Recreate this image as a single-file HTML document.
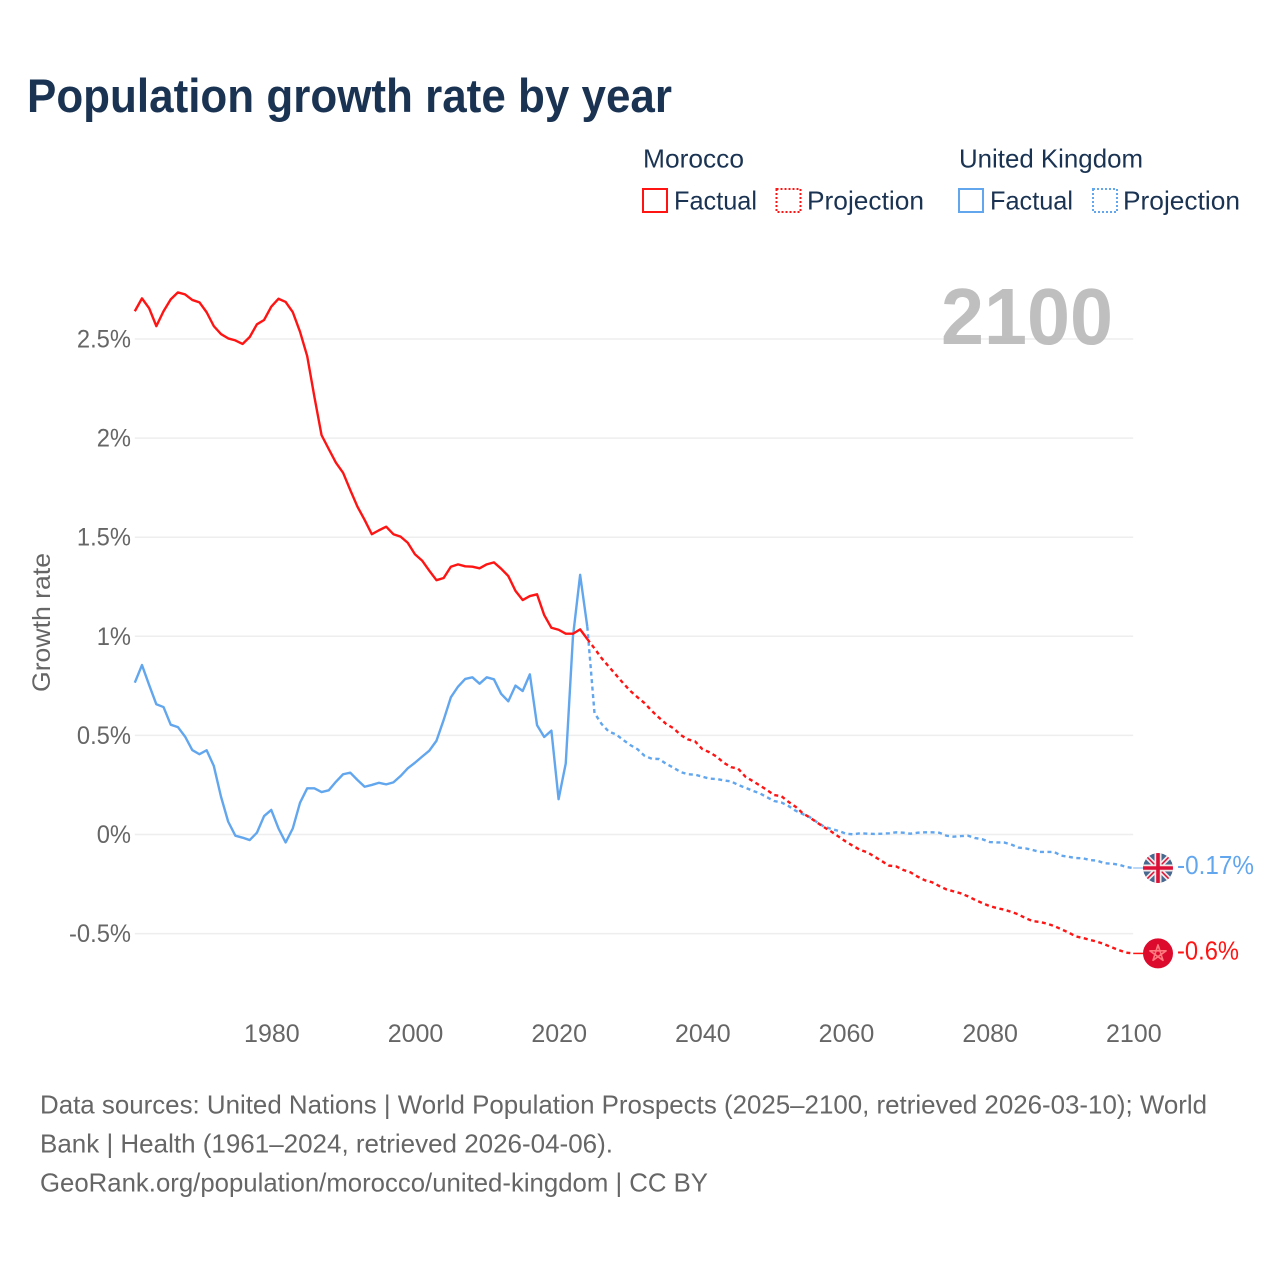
<!DOCTYPE html>
<html lang="en">
<head>
<meta charset="utf-8">
<title>Population growth rate by year</title>
<style>
  html, body { margin: 0; padding: 0; background: #ffffff; }
  body { width: 1280px; height: 1280px; overflow: hidden; }
  svg { display: block; }
  text { font-family: "Liberation Sans", sans-serif; }
  .dark { fill: #1a3352; font-size: 26px; }
  .grey { fill: #666666; font-size: 26px; }
  .tick { fill: #666666; font-size: 25px; }
</style>
</head>
<body>
<svg id="chart" xmlns="http://www.w3.org/2000/svg" width="1280" height="1280" viewBox="0 0 1280 1280">
  <rect x="0" y="0" width="1280" height="1280" fill="#ffffff"/>
  <text x="27" y="112" font-size="47" font-weight="700" fill="#1a3352" textLength="645" lengthAdjust="spacingAndGlyphs">Population growth rate by year</text>

  <g>
    <text class="dark" x="643" y="167.5" textLength="101" lengthAdjust="spacingAndGlyphs">Morocco</text>
    <text class="dark" x="959" y="167.5" textLength="184" lengthAdjust="spacingAndGlyphs">United Kingdom</text>
    <g>
      <rect x="643" y="189" width="24" height="23" fill="none" stroke="#ff1414" stroke-width="2"/>
      <text class="dark" x="674" y="209.5" textLength="83" lengthAdjust="spacingAndGlyphs">Factual</text>
    </g>
    <g>
      <rect x="776.5" y="189" width="24" height="23" fill="none" stroke="#ff1414" stroke-width="2" stroke-dasharray="2 2"/>
      <text class="dark" x="807" y="209.5" textLength="117" lengthAdjust="spacingAndGlyphs">Projection</text>
    </g>
    <g>
      <rect x="959" y="189" width="24" height="23" fill="none" stroke="#62a6ee" stroke-width="2"/>
      <text class="dark" x="990" y="209.5" textLength="83" lengthAdjust="spacingAndGlyphs">Factual</text>
    </g>
    <g>
      <rect x="1093" y="189" width="24" height="23" fill="none" stroke="#62a6ee" stroke-width="2" stroke-dasharray="2 2"/>
      <text class="dark" x="1123" y="209.5" textLength="117" lengthAdjust="spacingAndGlyphs">Projection</text>
    </g>
  </g>

  <g id="grid"></g>
  <g id="y-ticks"></g>
  <g id="x-ticks"></g>
  <text class="tick" transform="translate(50 622.5) rotate(-90)" text-anchor="middle" textLength="139" lengthAdjust="spacingAndGlyphs">Growth rate</text>

  <text x="941" y="344" font-size="80" font-weight="700" fill="#b4b4b4" fill-opacity="0.85" textLength="172" lengthAdjust="spacingAndGlyphs">2100</text>

  <g id="series"></g>

  <defs>
    <clipPath id="flag-clip"><circle cx="0" cy="0" r="15"/></clipPath>
  </defs>
  <g id="flag-uk" clip-path="url(#flag-clip)">
    <circle cx="0" cy="0" r="15" fill="#47688f"/>
    <path d="M-15 -15L15 15M15 -15L-15 15" stroke="#f3e9e9" stroke-width="5" fill="none"/>
    <path d="M-15 -15L15 15M15 -15L-15 15" stroke="#dc1137" stroke-width="1.5" fill="none"/>
    <path d="M0 -15V15M-15 0H15" stroke="#f3e9e9" stroke-width="7" fill="none"/>
    <path d="M0 -15V15M-15 0H15" stroke="#dc1137" stroke-width="3.6" fill="none"/>
  </g>
  <g id="flag-ma">
    <circle cx="0" cy="0" r="15" fill="#dc0a2d"/>
    <path d="M0 -8.5L5 6.9L-8.1 -2.6H8.1L-5 6.9Z" fill="none" stroke="#ff7a7f" stroke-width="1.6" stroke-linejoin="round"/>
  </g>
  <text id="label-uk" font-size="26" fill="#62a6ee" textLength="77" lengthAdjust="spacingAndGlyphs"></text>
  <text id="label-ma" font-size="26" fill="#ff1414" textLength="62" lengthAdjust="spacingAndGlyphs"></text>

  <g>
    <text class="grey" x="40" y="1113.7" textLength="1167" lengthAdjust="spacingAndGlyphs">Data sources: United Nations | World Population Prospects (2025–2100, retrieved 2026-03-10); World</text>
    <text class="grey" x="40" y="1152.7" textLength="573" lengthAdjust="spacingAndGlyphs">Bank | Health (1961–2024, retrieved 2026-04-06).</text>
    <text class="grey" x="40" y="1191.7" textLength="668" lengthAdjust="spacingAndGlyphs">GeoRank.org/population/morocco/united-kingdom | CC BY</text>
  </g>
</svg>

<script>
var yTickValues = [-0.5, 0, 0.5, 1, 1.5, 2, 2.5];
var yTickLabels = ["-0.5%", "0%", "0.5%", "1%", "1.5%", "2%", "2.5%"];
var xTickYears = [1980, 2000, 2020, 2040, 2060, 2080, 2100];
var xTickLabels = ["1980", "2000", "2020", "2040", "2060", "2080", "2100"];
var factualStartYear = 1961;
var projectionStartYear = 2024;

var moroccoFactual = [
  2.64, 2.705, 2.655, 2.565, 2.64, 2.70, 2.735, 2.725, 2.697, 2.685,
  2.635, 2.565, 2.525, 2.503, 2.493, 2.475, 2.51, 2.574, 2.596, 2.663,
  2.703, 2.687, 2.635, 2.537, 2.414, 2.209, 2.015, 1.945, 1.876, 1.825,
  1.738, 1.654, 1.587, 1.515, 1.535, 1.553, 1.515, 1.503, 1.472, 1.414,
  1.382, 1.331, 1.283, 1.294, 1.351, 1.363, 1.353, 1.351, 1.343, 1.363,
  1.373, 1.341, 1.304, 1.229, 1.183, 1.203, 1.212, 1.107, 1.043, 1.033,
  1.013, 1.013, 1.035, 0.986
];
var ukFactual = [
  0.766, 0.855, 0.754, 0.657, 0.643, 0.554, 0.542, 0.494, 0.426, 0.405,
  0.425, 0.346, 0.191, 0.065, -0.006, -0.016, -0.028, 0.009, 0.093, 0.124,
  0.031, -0.04, 0.031, 0.16, 0.233, 0.233, 0.214, 0.223, 0.266, 0.304,
  0.312, 0.275, 0.241, 0.25, 0.261, 0.253, 0.263, 0.295, 0.334, 0.362,
  0.393, 0.423, 0.473, 0.578, 0.692, 0.746, 0.785, 0.793, 0.761, 0.793,
  0.783, 0.71, 0.672, 0.751, 0.724, 0.808, 0.552, 0.492, 0.524, 0.178,
  0.359, 0.998, 1.31, 1.048
];
var moroccoProjection = [
  0.986, 0.939, 0.889, 0.847, 0.805, 0.763, 0.724, 0.692, 0.662, 0.623,
  0.589, 0.557, 0.536, 0.502, 0.48, 0.47, 0.431, 0.415, 0.393, 0.362,
  0.34, 0.332, 0.292, 0.27, 0.248, 0.225, 0.199, 0.194, 0.165, 0.14,
  0.107, 0.085, 0.06, 0.036, 0.014, -0.011, -0.036, -0.058, -0.078, -0.09,
  -0.112, -0.134, -0.157, -0.161, -0.179, -0.191, -0.213, -0.231, -0.241, -0.26,
  -0.277, -0.287, -0.297, -0.312, -0.33, -0.346, -0.361, -0.371, -0.379, -0.39,
  -0.403, -0.422, -0.437, -0.441, -0.45, -0.462, -0.478, -0.495, -0.514, -0.522,
  -0.532, -0.541, -0.554, -0.569, -0.583, -0.596, -0.6
];
var ukProjection = [
  1.048, 0.613, 0.557, 0.519, 0.505, 0.477, 0.451, 0.43, 0.396, 0.382,
  0.381, 0.356, 0.337, 0.315, 0.304, 0.302, 0.292, 0.282, 0.28, 0.273,
  0.268, 0.25, 0.236, 0.221, 0.208, 0.188, 0.169, 0.162, 0.144, 0.12,
  0.103, 0.087, 0.062, 0.039, 0.028, 0.018, 0.004, 0.001, 0.006, 0.004,
  0.003, 0.004, 0.006, 0.011, 0.009, 0.004, 0.009, 0.011, 0.011, 0.009,
  -0.006, -0.011, -0.008, -0.006, -0.018, -0.024, -0.038, -0.04, -0.04, -0.05,
  -0.066, -0.07, -0.078, -0.088, -0.088, -0.088, -0.107, -0.112, -0.119, -0.12,
  -0.129, -0.132, -0.145, -0.147, -0.152, -0.164, -0.169
];

var NS = "http://www.w3.org/2000/svg";
var plotLeft = 134.8;
var plotRight = 1133.2;
function xScale(year) {
  return plotLeft + (year - 1961) * (plotRight - plotLeft) / (2100 - 1961);
}
function yScale(value) {
  return 834.5 - value * 198.2;
}
function buildPoints(values, startYear) {
  return values.map(function (v, i) {
    return xScale(startYear + i).toFixed(2) + "," + yScale(v).toFixed(2);
  }).join(" ");
}
function makeLine(values, startYear, color, dashed) {
  var line = document.createElementNS(NS, "polyline");
  line.setAttribute("points", buildPoints(values, startYear));
  line.setAttribute("fill", "none");
  line.setAttribute("stroke", color);
  line.setAttribute("stroke-width", "2.4");
  line.setAttribute("stroke-linejoin", "round");
  if (dashed) line.setAttribute("stroke-dasharray", "4 3.5");
  document.getElementById("series").appendChild(line);
  return line;
}

yTickValues.forEach(function (v, i) {
  var rule = document.createElementNS(NS, "line");
  
  
  rule.setAttribute("x1", plotLeft);
  rule.setAttribute("x2", plotRight);
  rule.setAttribute("y1", yScale(v));
  rule.setAttribute("y2", yScale(v));
  rule.setAttribute("stroke", "#eeeeee");
  rule.setAttribute("stroke-width", "1.5");
  document.getElementById("grid").appendChild(rule);

  var label = document.createElementNS(NS, "text");
  
  
  label.setAttribute("class", "tick");
  label.setAttribute("x", "131");
  label.setAttribute("y", yScale(v) + 8.5);
  label.setAttribute("text-anchor", "end");
  label.textContent = yTickLabels[i];
  document.getElementById("y-ticks").appendChild(label);
  label.setAttribute("textLength", (label.getComputedTextLength() * 0.95).toFixed(1));
  label.setAttribute("lengthAdjust", "spacingAndGlyphs");
});

xTickYears.forEach(function (year, i) {
  var label = document.createElementNS(NS, "text");
  
  
  label.setAttribute("class", "tick");
  label.setAttribute("x", xScale(year) + 0.6);
  label.setAttribute("y", "1042");
  label.setAttribute("text-anchor", "middle");
  label.textContent = xTickLabels[i];
  document.getElementById("x-ticks").appendChild(label);
});

var ukProjectionLine = makeLine(ukProjection, projectionStartYear, "#62a6ee", true);


var ukFactualLine = makeLine(ukFactual, factualStartYear, "#62a6ee", false);


var moroccoProjectionLine = makeLine(moroccoProjection, projectionStartYear, "#ff1414", true);


var moroccoFactualLine = makeLine(moroccoFactual, factualStartYear, "#ff1414", false);



function placeEnd(values, flagId, labelId, color) {
  var last = values[values.length - 1];
  var yEnd = yScale(last);
  var stub = document.createElementNS(NS, "line");
  stub.setAttribute("x1", plotRight);
  stub.setAttribute("x2", "1144");
  stub.setAttribute("y1", yEnd);
  stub.setAttribute("y2", yEnd);
  stub.setAttribute("stroke", color);
  stub.setAttribute("stroke-width", "1.5");
  document.getElementById("series").appendChild(stub);
  document.getElementById(flagId).setAttribute("transform", "translate(1158 " + yEnd + ")");
  var label = document.getElementById(labelId);
  label.setAttribute("x", "1177");
  label.setAttribute("y", yEnd + 6);
  label.textContent = parseFloat(last.toFixed(2)) + "%";
  return stub;
}
var ukStub = placeEnd(ukProjection, "flag-uk", "label-uk", "#a6cbf4");


var moroccoStub = placeEnd(moroccoProjection, "flag-ma", "label-ma", "#ff1414");


</script>
</body>
</html>
